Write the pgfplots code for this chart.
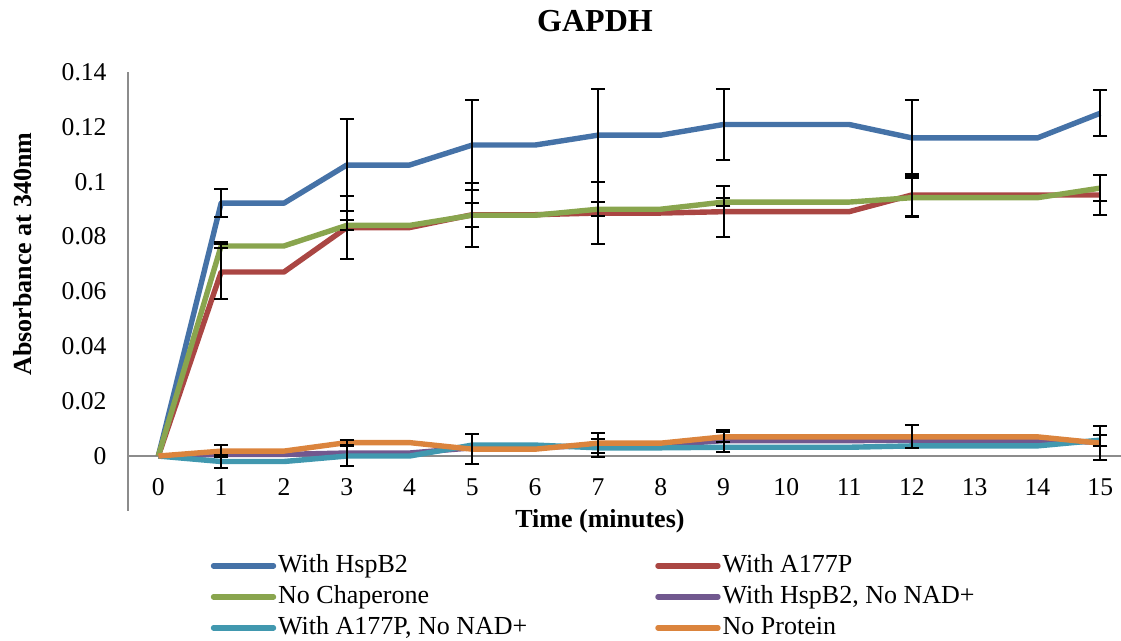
\documentclass[border=0pt]{standalone}
\usepackage{pgfplots}
\pgfplotsset{compat=1.18}
\usepackage{pgfplotstable}
\usepackage{fontspec}
\setmainfont{Liberation Serif}
\definecolor{cBlue}{HTML}{4572A7}
\definecolor{cRed}{HTML}{AA4643}
\definecolor{cGreen}{HTML}{89A54E}
\definecolor{cPurple}{HTML}{71588F}
\definecolor{cCyan}{HTML}{4198AF}
\definecolor{cOrange}{HTML}{DB843D}
\definecolor{axgray}{HTML}{8C8C8C}

\pgfplotstableread{
x y
0 0
1 0.0922
2 0.0922
3 0.1061
4 0.1061
5 0.1134
6 0.1134
7 0.1170
8 0.1170
9 0.1209
10 0.1209
11 0.1209
12 0.1160
13 0.1160
14 0.1160
15 0.1250
}\hspb
\pgfplotstableread{
x y
0 0
1 0.0671
2 0.0671
3 0.0833
4 0.0833
5 0.0880
6 0.0880
7 0.0886
8 0.0886
9 0.0891
10 0.0891
11 0.0891
12 0.0952
13 0.0952
14 0.0952
15 0.0952
}\atp
\pgfplotstableread{
x y
0 0
1 0.0766
2 0.0766
3 0.0841
4 0.0841
5 0.0878
6 0.0878
7 0.0900
8 0.0900
9 0.0926
10 0.0926
11 0.0926
12 0.0942
13 0.0942
14 0.0942
15 0.0977
}\nochap
\pgfplotstableread{
x y
0 0
1 0.0006
2 0.0006
3 0.0011
4 0.0011
5 0.0030
6 0.0030
7 0.0040
8 0.0040
9 0.0056
10 0.0056
11 0.0056
12 0.0058
13 0.0058
14 0.0058
15 0.0050
}\hspbnn
\pgfplotstableread{
x y
0 0
1 -0.0020
2 -0.0020
3 0
4 0
5 0.0040
6 0.0040
7 0.0030
8 0.0030
9 0.0032
10 0.0032
11 0.0032
12 0.0037
13 0.0037
14 0.0037
15 0.0058
}\atpnn
\pgfplotstableread{
x y
0 0
1 0.0018
2 0.0018
3 0.0049
4 0.0049
5 0.0025
6 0.0025
7 0.0047
8 0.0047
9 0.0070
10 0.0070
11 0.0070
12 0.0070
13 0.0070
14 0.0070
15 0.0047
}\noprot
% error bars: x y e
\pgfplotstableread{
x y e
1 0.0922 0.0050
3 0.1061 0.0168
5 0.1134 0.0164
7 0.1170 0.0170
9 0.1209 0.0128
12 0.1160 0.0140
15 0.1250 0.0083
}\ehspb
\pgfplotstableread{
x y e
1 0.0676 0.0103
3 0.0833 0.0115
5 0.0880 0.0117
7 0.0886 0.0113
9 0.0891 0.0092
12 0.0952 0.0077
15 0.0952 0.0072
}\eatp
\pgfplotstableread{
x y e
1 0.0766 0.0008
3 0.0841 0.0018
5 0.0878 0.0044
7 0.0900 0.0025
9 0.0926 0.0016
12 0.0942 0.0072
15 0.0977 0.0047
}\enochap
\pgfplotstableread{
x y e
9 0.0056 0.0040
}\ehspbnn
\pgfplotstableread{
x y e
1 -0.0020 0.0025
3 0 0.0035
7 0.0030 0.0033
15 0.0058 0.0020
}\eatpnn
\pgfplotstableread{
x y e
1 0.0018 0.0022
3 0.0049 0.0010
5 0.0025 0.0055
7 0.0047 0.0037
9 0.0070 0.0017
12 0.0070 0.0042
15 0.0047 0.0062
}\enoprot

\begin{document}
\begin{tikzpicture}
\path[use as bounding box] (0,0) rectangle (560.5pt,320.5pt);
\begin{axis}[
  at={(64pt,65.05pt)}, anchor=south west,
  scale only axis,
  width=496.5pt, height=219.4pt,
  xmin=-0.483, xmax=15.33,
  ymin=-0.02, ymax=0.14,
  clip=false,
  axis y line*=left,
  axis x line*=bottom,
  x axis line style={draw=none},
  y axis line style={draw=axgray, line width=0.8pt},
  major tick length=0pt,
  xtick={0,1,...,15},
  ytick={0,0.02,0.04,0.06,0.08,0.1,0.12,0.14},
  yticklabels={0,0.02,0.04,0.06,0.08,0.1,0.12,0.14},
  extra y ticks={0},
  extra y tick labels={},
  extra y tick style={grid=major, major grid style={draw=axgray, line width=0.8pt}},
  /pgf/number format/assume math mode=true,
  ticklabel style={font=\fontsize{12.8}{14}\selectfont},
  yticklabel style={anchor=east, xshift=-7.2pt},
  xticklabel style={anchor=north, yshift=19.5pt},
  title={\textbf{GAPDH}},
  title style={font=\fontsize{16}{18}\selectfont, at={(axis description cs:0.4703,1.0888)}, anchor=center},
  xlabel={\textbf{Time (minutes)}},
  xlabel style={font=\fontsize{13}{15}\selectfont, at={(axis description cs:0.4753,-0.023)}, anchor=center},
  ylabel={\textbf{Absorbance at 340nm}},
  ylabel style={font=\fontsize{13}{15}\selectfont, at={(axis description cs:-0.1057,0.5853)}, anchor=center, rotate=0},
  legend columns=2,
  legend cell align=left,
  legend image code/.code={\draw[#1, line width=2.7pt, line cap=round] (0pt,0pt) -- (30pt,0pt);},
  legend style={draw=none, fill=none, font=\fontsize{13}{15}\selectfont,
    at={(axis description cs:0.083,-0.0925)}, anchor=north west,
    inner sep=0pt, row sep=1.5pt,
    nodes={inner sep=1pt, text height=9.5pt, text depth=2.5pt},
    /tikz/every even column/.append style={column sep=63pt}},
  every axis plot/.append style={line width=2.7pt, line join=round},
]
\addplot[cBlue] table[x=x,y=y] {\hspb};
\addlegendentry{With HspB2}
\addplot[cRed] table[x=x,y=y] {\atp};
\addlegendentry{With A177P}
\addplot[cGreen] table[x=x,y=y] {\nochap};
\addlegendentry{No Chaperone}
\addplot[cPurple] table[x=x,y=y] {\hspbnn};
\addlegendentry{With HspB2, No NAD+}
\addplot[cCyan] table[x=x,y=y] {\atpnn};
\addlegendentry{With A177P, No NAD+}
\addplot[cOrange] table[x=x,y=y] {\noprot};
\addlegendentry{No Protein}

\pgfplotsset{errstyle/.style={forget plot, draw=none, mark=none,
  error bars/.cd, y dir=both, y explicit,
  error bar style={draw=black, line width=1pt},
  error mark=|, error mark options={draw=black, line width=1pt, mark size=3.5pt}}}
\addplot[errstyle] table[x=x,y=y,y error=e] {\ehspb};
\addplot[errstyle] table[x=x,y=y,y error=e] {\eatp};
\addplot[errstyle] table[x=x,y=y,y error=e] {\enochap};
\addplot[errstyle] table[x=x,y=y,y error=e] {\ehspbnn};
\addplot[errstyle] table[x=x,y=y,y error=e] {\eatpnn};
\addplot[errstyle] table[x=x,y=y,y error=e] {\enoprot};
\end{axis}
\end{tikzpicture}
\end{document}
